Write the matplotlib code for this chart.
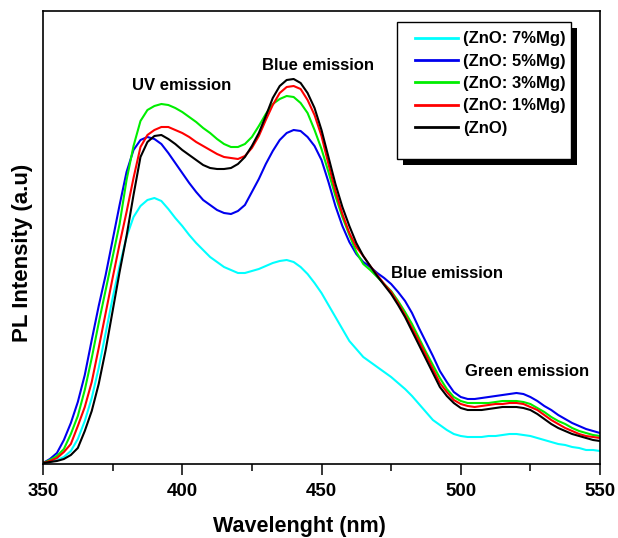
import matplotlib
matplotlib.use("Agg")
import matplotlib.pyplot as plt
import matplotlib.patheffects as pe
from matplotlib.patches import Rectangle
from matplotlib.ticker import MultipleLocator, NullLocator

plt.rcParams['font.family'] = ['Liberation Sans', 'DejaVu Sans']
plt.rcParams['font.weight'] = 'bold'

# Wavelength grid (nm), 2.5 nm steps from 350 to 550
wavelength = [350 + 2.5 * i for i in range(81)]

# PL intensity (a.u.) for each sample
zno_7mg = [1, 2, 4, 7, 13, 25, 43, 66, 96, 131, 166, 198, 227, 247, 258, 264,
           266, 263, 255, 246, 238, 229, 221, 214, 207, 202, 197, 194, 191, 191,
           193, 195, 198, 201, 203, 204, 202, 197, 190, 181, 171, 159, 147, 135,
           123, 115, 107, 102, 97, 92, 87, 81, 75, 68, 60, 52, 44, 39, 34, 30,
           28, 27, 27, 27, 28, 28, 29, 30, 30, 29, 28, 26, 24, 22, 20, 19, 17,
           16, 14, 14, 13]
zno_5mg = [1, 5, 11, 24, 41, 62, 89, 124, 158, 189, 224, 259, 292, 314, 324, 327,
           325, 320, 311, 301, 291, 281, 272, 264, 259, 254, 251, 250, 253, 259,
           272, 285, 300, 313, 324, 331, 334, 333, 327, 318, 304, 282, 258, 238,
           222, 210, 202, 197, 191, 186, 180, 172, 163, 151, 136, 122, 108, 93,
           82, 72, 67, 65, 65, 66, 67, 68, 69, 70, 71, 70, 67, 63, 58, 54, 49,
           45, 41, 38, 35, 33, 31]
zno_3mg = [1, 4, 8, 15, 30, 48, 74, 106, 141, 174, 207, 240, 284, 318, 343, 354,
           358, 360, 359, 356, 352, 347, 342, 336, 331, 325, 320, 317, 317, 320,
           327, 338, 350, 360, 365, 368, 367, 361, 351, 334, 315, 292, 268, 247,
           229, 212, 200, 194, 187, 180, 173, 163, 152, 140, 126, 112, 99, 86,
           75, 67, 63, 61, 61, 61, 61, 62, 63, 63, 63, 62, 60, 56, 52, 47, 43,
           40, 36, 33, 31, 29, 28]
zno_1mg = [1, 3, 6, 12, 20, 38, 57, 82, 116, 151, 186, 220, 252, 286, 317, 329,
           334, 337, 337, 334, 331, 327, 322, 318, 314, 310, 307, 306, 305, 308,
           316, 328, 344, 359, 371, 377, 378, 375, 364, 349, 328, 300, 273, 250,
           231, 217, 208, 198, 189, 180, 172, 161, 149, 136, 123, 109, 95, 81,
           72, 64, 60, 58, 57, 58, 59, 60, 60, 61, 61, 60, 57, 54, 49, 44, 40,
           36, 33, 30, 28, 27, 26]
zno_pure = [1, 2, 3, 5, 9, 16, 33, 53, 80, 114, 153, 192, 228, 269, 307, 322,
            328, 329, 325, 320, 314, 309, 304, 299, 296, 295, 295, 296, 300, 307,
            318, 331, 348, 366, 378, 384, 385, 381, 371, 356, 334, 307, 280, 257,
            238, 221, 208, 198, 188, 179, 170, 159, 147, 133, 119, 105, 91, 77,
            68, 61, 56, 54, 54, 54, 55, 56, 57, 57, 57, 56, 54, 50, 45, 40, 36,
            33, 30, 28, 26, 24, 23]

series = [
    ("(ZnO: 7%Mg)", zno_7mg, "#00FFFF"),
    ("(ZnO: 5%Mg)", zno_5mg, "#0000EE"),
    ("(ZnO: 3%Mg)", zno_3mg, "#00EE00"),
    ("(ZnO: 1%Mg)", zno_1mg, "#FF0000"),
    ("(ZnO)", zno_pure, "#000000"),
]

# Emission band annotations: (text, wavelength, intensity)
band_labels = [
    ("UV emission", 399.6, 379),
    ("Blue emission", 448.7, 398),
    ("Blue emission", 495.2, 190),
    ("Green emission", 523.9, 93),
]

fig = plt.figure(figsize=(6.18, 5.38), dpi=100)
ax = fig.add_axes([43 / 618, 74 / 538, 557 / 618, 453 / 538])

for label, values, color in series:
    ax.plot(wavelength, values, color=color, lw=1.5, label=label)

ax.set_xlim(350, 550)
ax.set_ylim(0, 453)
ax.xaxis.set_major_locator(MultipleLocator(50))
ax.xaxis.set_minor_locator(MultipleLocator(25))
ax.yaxis.set_major_locator(NullLocator())
ax.tick_params(axis='x', which='major', direction='out', length=8, width=1.1,
               labelsize=13.5, pad=6)
ax.tick_params(axis='x', which='minor', direction='out', length=5, width=1.1)
for spine in ax.spines.values():
    spine.set_linewidth(1.2)

ax.set_xlabel("Wavelenght (nm)", fontsize=15.5, fontweight='bold')
ax.set_ylabel("PL Intensity (a.u)", fontsize=16, fontweight='bold')
ax.xaxis.set_label_coords(0.46, -0.115)
ax.yaxis.set_label_coords(-0.018, 0.466)

for text, x, y in band_labels:
    ax.text(x, y, text, ha='center', va='center', fontsize=12, fontweight='bold')

# Legend frame with a solid drop shadow
frame = Rectangle((0.6355, 0.673), 0.3125, 0.3027, transform=ax.transAxes,
                  facecolor='white', edgecolor='black', lw=1.0, zorder=4)
frame.set_path_effects([pe.SimplePatchShadow(offset=(4.3, -4.3), shadow_rgbFace='black',
                                             alpha=1.0), pe.Normal()])
ax.add_patch(frame)

leg = ax.legend(loc='upper left', bbox_to_anchor=(0.667, 0.955), frameon=False,
                fontsize=12, handlelength=2.6, handletextpad=0.3, labelspacing=0.44,
                borderpad=0, borderaxespad=0)
leg.set_zorder(5)
for line in leg.get_lines():
    line.set_linewidth(2.0)

fig.savefig("out.png", dpi=100)
